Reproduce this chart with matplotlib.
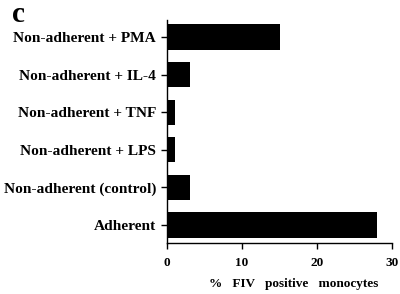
import matplotlib
matplotlib.use("Agg")
import matplotlib.pyplot as plt

categories = ["Adherent", "Non-adherent (control)", "Non-adherent + LPS",
              "Non-adherent + TNF", "Non-adherent + IL-4", "Non-adherent + PMA"]
values = [28, 3, 1, 1, 3, 15]
xticks = [0, 10, 20, 30]
xlabel = "%   FIV   positive   monocytes"
panel = "c"

plt.rcParams['font.family'] = ['Liberation Serif', 'DejaVu Serif']
plt.rcParams['font.weight'] = 'bold'

fig = plt.figure(figsize=(4.0, 2.94), dpi=100)
ax = fig.add_axes([0.4175, 0.1735, 0.5625, 0.7585])
ypos = list(range(len(categories)))
ax.barh(ypos, values, height=0.67, color='black')
ax.set_yticks(ypos)
ax.set_yticklabels(categories, fontsize=11.1, fontweight='bold')
ax.set_xticks(xticks)
ax.set_xticklabels([str(t) for t in xticks], fontsize=9.5, fontweight='bold')
ax.set_xlim(0, 30)
ax.set_ylim(-0.48, 5.45)
ax.spines['top'].set_visible(False)
ax.spines['right'].set_visible(False)
ax.spines['left'].set_linewidth(1.0)
ax.spines['bottom'].set_linewidth(1.0)
ax.tick_params(axis='both', direction='out', length=4, width=1.0, pad=4)
ax.tick_params(axis='x', pad=6)
ax.set_xlabel(xlabel, fontsize=9.5, fontweight='bold')
ax.xaxis.set_label_coords(0.564, -0.155)
fig.text(0.03, 0.995, panel, fontsize=21, fontweight='bold', va='top', ha='left')
fig.savefig("out.png", dpi=100)
